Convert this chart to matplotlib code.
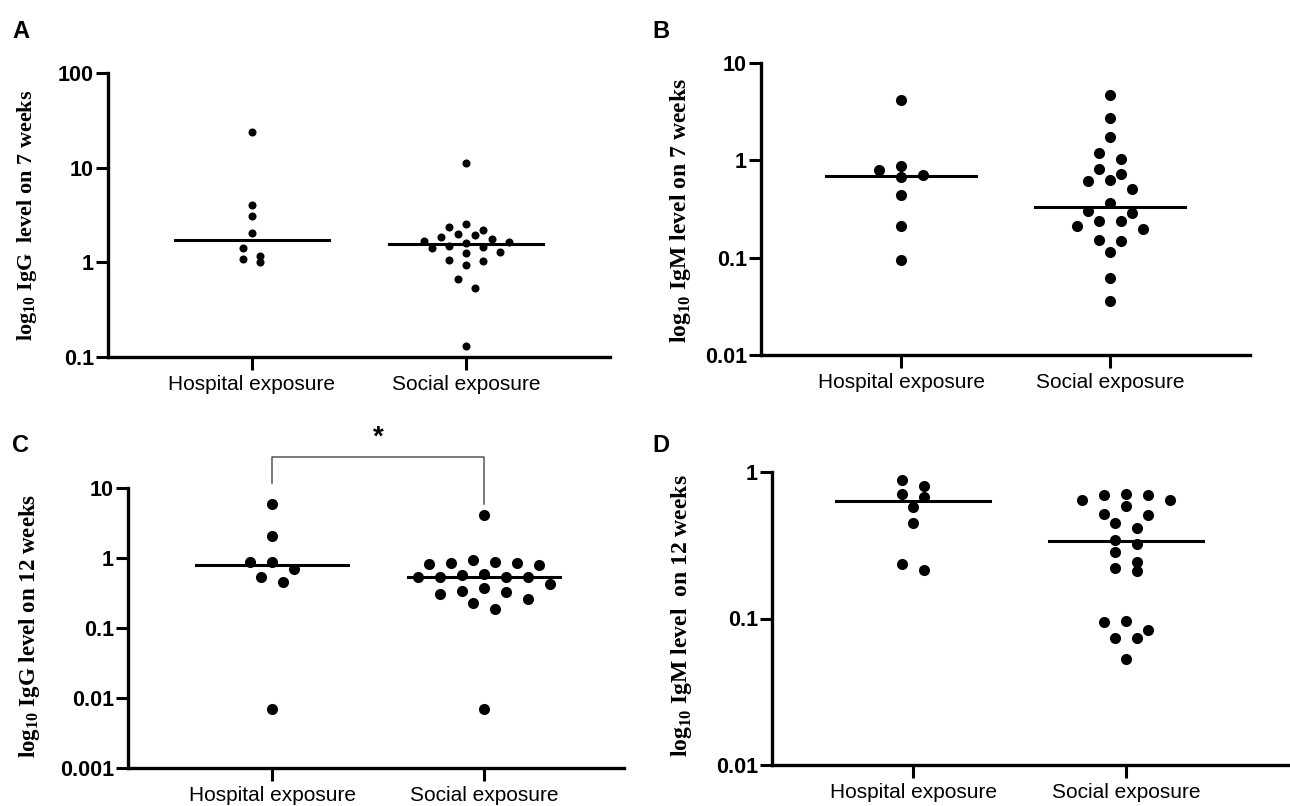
import numpy as np
import matplotlib
matplotlib.use('Agg')
import matplotlib.pyplot as plt
from matplotlib.ticker import NullLocator

plt.rcParams['mathtext.fontset'] = 'custom'
plt.rcParams['mathtext.rm'] = 'Liberation Serif:bold'
plt.rcParams['mathtext.bf'] = 'Liberation Serif:bold'

groups = ['Hospital exposure', 'Social exposure']

# A: IgG, 7 weeks
igg7_hosp = [24.1, 4.05, 3.07, 2.05, 1.40, 1.16, 1.08, 1.0]
igg7_soc = [11.1, 2.57, 2.35, 2.20, 2.01, 1.96, 1.84, 1.77, 1.70, 1.64, 1.48,
            1.44, 1.43, 1.29, 1.24, 1.07, 1.03, 0.94, 0.67, 0.54, 0.13, 1.60]
igg7_med = [1.73, 1.55]

# B: IgM, 7 weeks
igm7_hosp = [4.13, 0.88, 0.80, 0.71, 0.67, 0.44, 0.21, 0.094]
igm7_soc = [4.73, 2.70, 1.74, 1.19, 1.03, 0.82, 0.73, 0.63, 0.61, 0.51, 0.365,
            0.304, 0.288, 0.24, 0.24, 0.213, 0.197, 0.151, 0.147, 0.114, 0.062, 0.036]
igm7_med = [0.695, 0.334]

# C: IgG, 12 weeks
igg12_hosp = [5.85, 2.05, 0.88, 0.88, 0.69, 0.54, 0.45, 0.0069]
igg12_soc = [4.17, 0.93, 0.88, 0.86, 0.835, 0.81, 0.79, 0.59, 0.57, 0.54, 0.54,
             0.54, 0.54, 0.42, 0.367, 0.336, 0.33, 0.305, 0.26, 0.225, 0.187, 0.0069]
igg12_med = [0.80, 0.54]

# D: IgM, 12 weeks
igm12_hosp = [0.877, 0.80, 0.71, 0.676, 0.577, 0.449, 0.237, 0.216]
igm12_soc = [0.71, 0.70, 0.70, 0.641, 0.641, 0.583, 0.514, 0.507, 0.449, 0.413,
             0.346, 0.321, 0.285, 0.243, 0.221, 0.211, 0.096, 0.0948, 0.084,
             0.074, 0.074, 0.0525]
igm12_med = [0.631, 0.337]

W, H = 1290, 806
fig = plt.figure(figsize=(W / 100, H / 100), dpi=100)


def px_axes(l, r, t, b):
    return [l / W, 1 - b / H, (r - l) / W, (b - t) / H]


def swarm_x(ax, xc, vals, step_px, h_px):
    # rows of near-equal values, spread centred around the category
    vals = np.asarray(vals, float)
    ypx = ax.transData.transform(np.c_[np.full(len(vals), xc), vals])[:, 1]
    unit = ax.transData.transform([(1, 1)])[0, 0] - ax.transData.transform([(0, 1)])[0, 0]
    order = np.argsort(-ypx)
    xs = np.zeros(len(vals))
    rows, cur = [], [order[0]]
    for i in order[1:]:
        if abs(ypx[cur[0]] - ypx[i]) < h_px:
            cur.append(i)
        else:
            rows.append(cur)
            cur = [i]
    rows.append(cur)
    for row in rows:
        n = len(row)
        slots = sorted(np.arange(n) - (n - 1) / 2, key=lambda s: (abs(s), s))
        for i, s in zip(row, slots):
            xs[i] = xc + s * step_px / unit
    return xs


panels = [
    dict(letter='A', lpos=(12, 38), rect=px_axes(108, 610, 73, 357), ylim=(0.1, 100),
         xlim=(-0.67, 1.67), data=(igg7_hosp, igg7_soc), med=igg7_med, ms=5.8,
         step=17, h=9, ylab=r'log$_{\mathrm{10}}$ IgG  level on 7 weeks',
         ypos=(27, 215), yfs=16),
    dict(letter='B', lpos=(652, 38), rect=px_axes(761, 1250, 63, 355), ylim=(0.01, 10),
         xlim=(-0.67, 1.67), data=(igm7_hosp, igm7_soc), med=igm7_med, ms=8,
         step=22, h=11, ylab=r'log$_{\mathrm{10}}$ IgM level on 7 weeks',
         ypos=(680, 211), yfs=17),
    dict(letter='C', lpos=(12, 452), rect=px_axes(128, 624, 488, 768), ylim=(0.001, 10),
         xlim=(-0.68, 1.66), data=(igg12_hosp, igg12_soc), med=igg12_med, ms=8,
         step=22, h=11, ylab=r'log$_{\mathrm{10}}$ IgG level on 12 weeks',
         ypos=(30, 626), yfs=16.5),
    dict(letter='D', lpos=(652, 452), rect=px_axes(772, 1290, 472, 765), ylim=(0.01, 1),
         xlim=(-0.662, 1.77), data=(igm12_hosp, igm12_soc), med=igm12_med, ms=8,
         step=22, h=11, ylab=r'log$_{\mathrm{10}}$ IgM level  on 12 weeks',
         ypos=(682, 616), yfs=17),
]

for p in panels:
    ax = fig.add_axes(p['rect'])
    ax.set_yscale('log')
    ax.set_ylim(*p['ylim'])
    ax.set_xlim(*p['xlim'])
    for g, vals in enumerate(p['data']):
        xs = swarm_x(ax, g, vals, p['step'], p['h'])
        ax.plot(xs, vals, 'o', color='black', ms=p['ms'], mew=0, clip_on=False, zorder=3)
        ax.plot([g - 0.36, g + 0.36], [p['med'][g]] * 2, color='black', lw=2.2, zorder=4)

    dec = np.arange(np.log10(p['ylim'][0]), np.log10(p['ylim'][1]) + 0.5)
    ticks = 10.0 ** dec
    ax.set_yticks(ticks, [('%g' % t) for t in ticks])
    ax.yaxis.set_minor_locator(NullLocator())
    ax.set_xticks([0, 1], groups)
    for s in ['top', 'right']:
        ax.spines[s].set_visible(False)
    for s in ['left', 'bottom']:
        ax.spines[s].set_linewidth(2.4)
    ax.tick_params(axis='y', length=9, width=2.2, pad=1, labelsize=15.5)
    ax.tick_params(axis='x', length=9, width=2.2, pad=4, labelsize=15)
    for t in ax.get_yticklabels():
        t.set_fontfamily('Liberation Sans')
        t.set_fontweight('bold')
    for t in ax.get_xticklabels():
        t.set_fontfamily('Liberation Sans')

    fig.text(p['lpos'][0] / W, 1 - p['lpos'][1] / H, p['letter'], fontsize=17,
             fontweight='bold', family='Liberation Sans', ha='left', va='baseline')
    fig.text(p['ypos'][0] / W, 1 - p['ypos'][1] / H, p['ylab'], rotation=90,
             fontsize=p['yfs'], family='Liberation Serif', fontweight='bold',
             ha='center', va='center')

    if p['letter'] == 'C':
        # significance bracket between the two groups
        tr = ax.get_xaxis_transform()
        ax.plot([0, 0, 1, 1], [1.018, 1.111, 1.111, 0.943], color='#555555',
                lw=1.1, transform=tr, clip_on=False)
        ax.text(0.5, 1.135, '*', transform=tr, ha='center', va='bottom',
                fontsize=20, fontweight='bold', family='Liberation Sans')

fig.savefig('out.png', dpi=100)
